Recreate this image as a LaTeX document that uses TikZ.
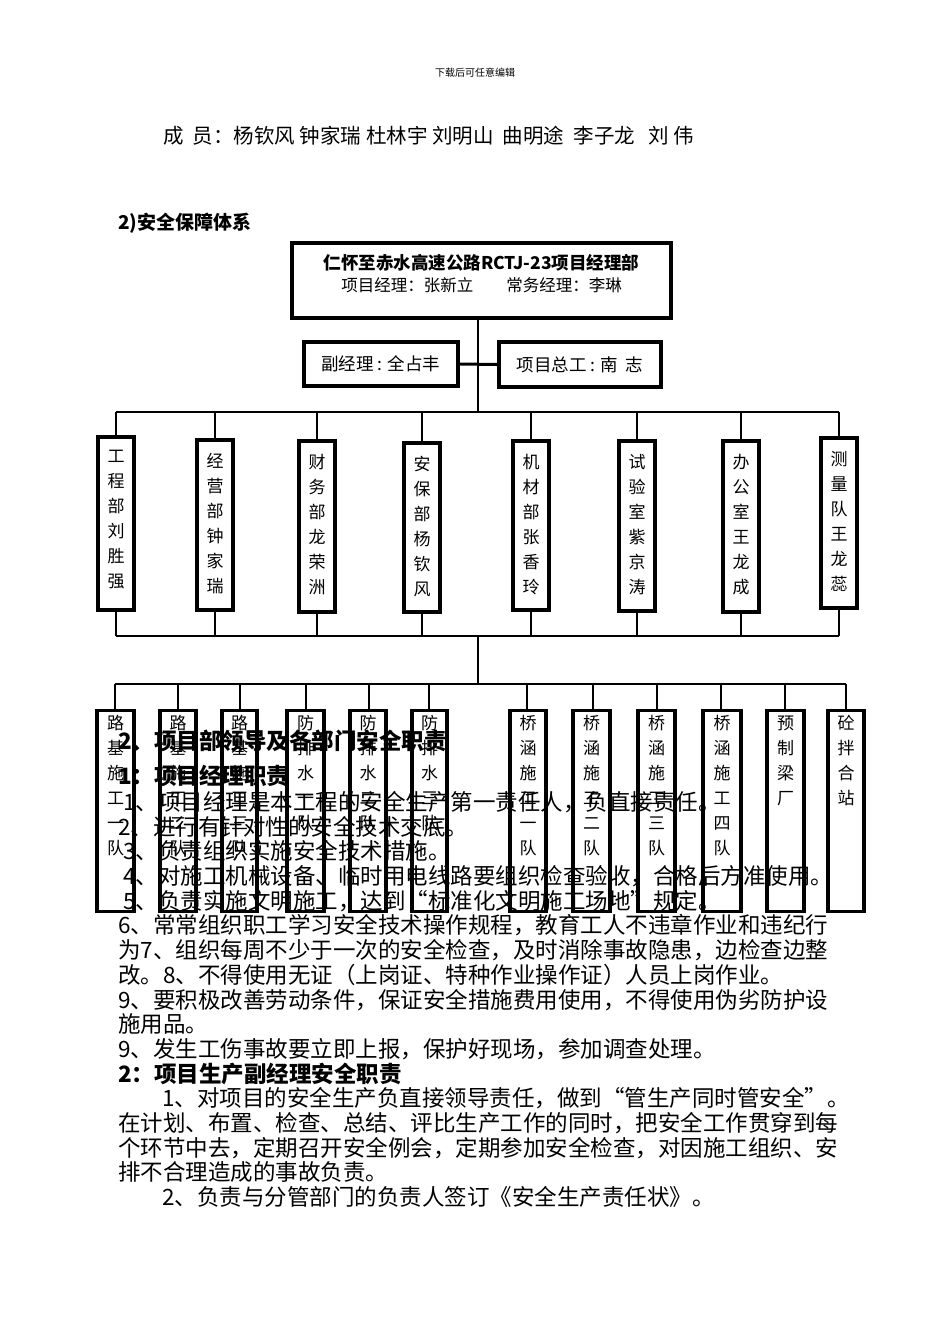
\documentclass[tikz,border=0pt]{standalone}
\usepackage{fontspec}
\setmainfont{Noto Sans CJK SC}
\begin{document}
\begin{tikzpicture}[x=1pt,y=-1pt,
  box/.style={draw,line width=3.5pt,fill=white,inner sep=0pt},
  conn/.style={line width=1.6pt},
  vtext/.style={align=center,font=\fontsize{17}{25}\selectfont,anchor=north},
  body/.style={anchor=west,font=\fontsize{22.5}{24}\selectfont,inner sep=0pt}]
\useasboundingbox (0,0) rectangle (950,1344);
\node (hdr) at (475,73) {\fontsize{10}{12}\selectfont 下载后可任意编辑};
\node[anchor=west,inner sep=0pt] (mem) at (163,136) {\fontsize{20.5}{22}\selectfont 成\ \ 员：杨钦风 钟家瑞 杜林宇 刘明山\ \ 曲明途\ \ 李子龙\ \ \ 刘 伟};
\node[anchor=west,inner sep=0pt] (t2) at (118,223) {\fontsize{19}{22}\selectfont\bfseries 2)安全保障体系};
% top
\node[box,minimum width=379pt,minimum height=75pt] (top) at (481.5,280.5) {};
\node (tl1) at (481.5,263) {\fontsize{17.5}{20}\selectfont\bfseries 仁怀至赤水高速公路RCTJ-23项目经理部};
\node (tl2) at (481.5,285) {\fontsize{16.5}{20}\selectfont 项目经理：张新立\quad\quad 常务经理：李琳};
\node[box,minimum width=154pt,minimum height=44pt,font=\fontsize{17.5}{20}\selectfont] (fu) at (381,364) {副经理 : 全占丰};
\node[box,minimum width=162pt,minimum height=45pt,font=\fontsize{17.5}{20}\selectfont] (zg) at (580,364.5) {项目总工 : 南\ \ 志};
\coordinate (c1) at (478,412);
\draw[conn] (top.south -| c1) -- (c1);
\draw[line width=3pt] (fu.east) -- (zg.west);
% departments
\foreach \n/\x/\ya/\yb/\t in {d1/116/437/610/工\\程\\部\\刘\\胜\\强, d2/215/440/610/经\\营\\部\\钟\\家\\瑞, d3/317/441/612/财\\务\\部\\龙\\荣\\洲, d4/422/443/612/安\\保\\部\\杨\\钦\\风, d5/531/441/610/机\\材\\部\\张\\香\\玲, d6/637/441/611/试\\验\\室\\紫\\京\\涛, d7/741/441/612/办\\公\\室\\王\\龙\\成, d8/839/438/608/测\\量\\队\\王\\龙\\蕊}{
  \node[box,minimum width=36pt,minimum height={\yb-\ya}] (\n) at (\x,{(\ya+\yb)/2}) {};
  \node[vtext] at (\x,\ya+10) {\t};
  \draw[conn] (\x,412) -- (\n.north);
  \draw[conn] (\n.south) -- (\x,636);
}
\draw[conn] (116,412) -- (839,412);
\draw[conn] (116,636) -- (839,636);
\coordinate (c2) at (478,684);
\draw[conn] (478,636) -- (c2);
\draw[conn] (115,684) -- (846,684);
% teams
\foreach \n/\x/\xa/\xb/\t in {
 e1/115/97/134/路\\基\\施\\工\\一\\队,
 e2/178/160/196/路\\基\\施\\工\\二\\队,
 e3/240/222/257/路\\基\\施\\工\\三\\队,
 e4/306/287/324/防\\排\\水\\一\\队,
 e5/369/350/386/防\\排\\水\\二\\队,
 e6/429/412/447/防\\排\\水\\三\\队,
 e7/527/510/546/桥\\涵\\施\\工\\一\\队,
 e8/593/573/610/桥\\涵\\施\\工\\二\\队,
 e9/657/638/675/桥\\涵\\施\\工\\三\\队,
 e10/721/703/741/桥\\涵\\施\\工\\四\\队,
 e11/785/767/804/预\\制\\梁\\厂,
 e12/846/828/864/砼\\拌\\合\\站}{
  \node[box,minimum width={\xb-\xa},minimum height=201pt] (\n) at ({(\xa+\xb)/2},811) {};
  \node[vtext] at ({(\xa+\xb)/2},712) {\t};
  \draw[conn] (\x,684) -- (\x,710.5);
}
% body text
\node[body] (b1) at (118,741) {\bfseries 2、项目部领导及各部门安全职责};
\node[body] (b2) at (118,776) {\bfseries 1：项目经理职责};
\node[body] (b3) at (118,802) {\ 1、项目经理是本工程的安全生产第一责任人，负直接责任。};
\node[body] (b4) at (118,827) {2、进行有针对性的安全技术交底。};
\node[body] (b5) at (118,851) {\ 3、负责组织实施安全技术措施。};
\node[body] (b6) at (118,876) {\ 4、对施工机械设备、临时用电线路要组织检查验收，合格后方准使用。};
\node[body] (b7) at (118,901) {\ 5、负责实施文明施工，达到“标准化文明施工场地”规定。};
\node[body] (b8) at (118,925) {6、常常组织职工学习安全技术操作规程，教育工人不违章作业和违纪行};
\node[body] (b9) at (118,950) {为7、组织每周不少于一次的安全检查，及时消除事故隐患，边检查边整};
\node[body] (b10) at (118,975) {改。8、不得使用无证（上岗证、特种作业操作证）人员上岗作业。};
\node[body] (b11) at (118,1000) {9、要积极改善劳动条件，保证安全措施费用使用，不得使用伪劣防护设};
\node[body] (b12) at (118,1024) {施用品。};
\node[body] (b13) at (118,1049) {9、发生工伤事故要立即上报，保护好现场，参加调查处理。};
\node[body] (b14) at (118,1074) {\bfseries 2：项目生产副经理安全职责};
\node[body] (b15) at (162,1098) {1、对项目的安全生产负直接领导责任，做到“管生产同时管安全”。};
\node[body] (b16) at (118,1123) {在计划、布置、检查、总结、评比生产工作的同时，把安全工作贯穿到每};
\node[body] (b17) at (118,1148) {个环节中去，定期召开安全例会，定期参加安全检查，对因施工组织、安};
\node[body] (b18) at (118,1172) {排不合理造成的事故负责。};
\node[body] (b19) at (162,1197) {2、负责与分管部门的负责人签订《安全生产责任状》。};
\end{tikzpicture}
\end{document}
